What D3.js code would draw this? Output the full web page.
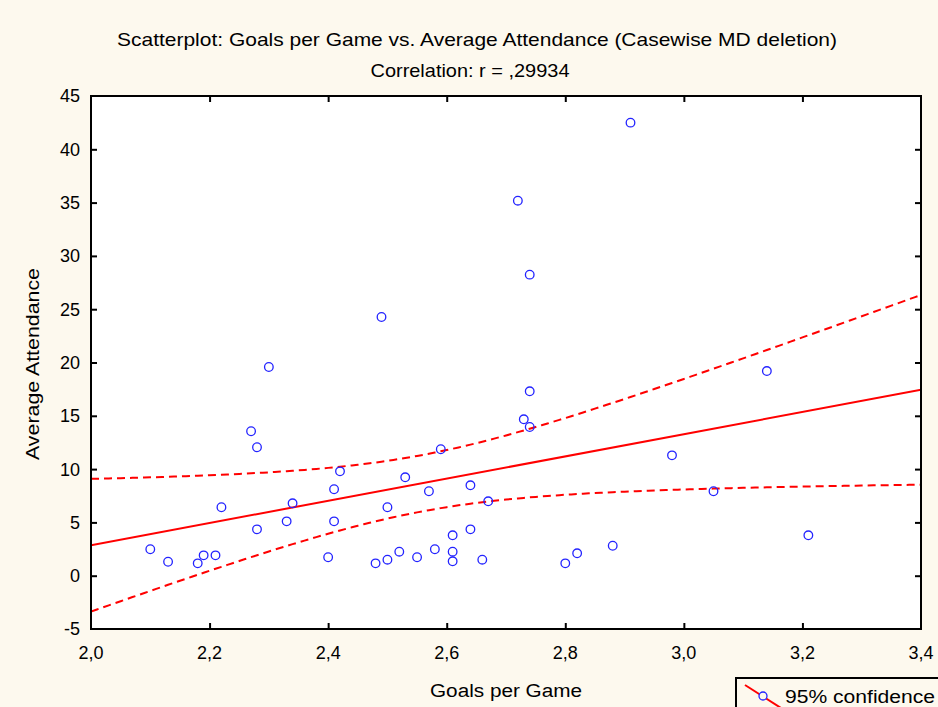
<!DOCTYPE html>
<html>
<head>
<meta charset="utf-8">
<script src="https://cdn.jsdelivr.net/npm/d3@7/dist/d3.min.js"></script>
<style>
  html, body { margin: 0; padding: 0; background: #fdf9ee; }
  svg { display: block; font-family: "Liberation Sans", Arial, sans-serif; }
</style>
</head>
<body>
<svg id="chart" width="938" height="707"></svg>
<script>
// Goals per game and average attendance (thousands) for each club
const goalsPerGame = [2.10, 2.13, 2.18, 2.19, 2.21, 2.22, 2.27, 2.28, 2.28, 2.30,
  2.33, 2.34, 2.40, 2.41, 2.41, 2.42, 2.48, 2.49, 2.50, 2.50,
  2.52, 2.53, 2.55, 2.57, 2.58, 2.59, 2.61, 2.61, 2.61, 2.64,
  2.64, 2.66, 2.67, 2.72, 2.73, 2.74, 2.74, 2.74, 2.80, 2.82,
  2.88, 2.91, 2.98, 3.05, 3.14, 3.21];
const avgAttendance = [2.48, 1.31, 1.16, 1.91, 1.91, 6.42, 13.55, 12.05, 4.35, 19.58,
  5.10, 6.79, 1.73, 8.11, 5.10, 9.79, 1.16, 24.27, 6.42, 1.50,
  2.25, 9.23, 1.73, 7.92, 2.48, 11.86, 3.79, 2.25, 1.35, 8.48,
  4.35, 1.50, 6.98, 35.18, 14.67, 13.95, 28.24, 17.30, 1.16, 2.10,
  2.81, 42.50, 11.29, 7.92, 19.20, 3.79];

const xTicks = [2.0, 2.2, 2.4, 2.6, 2.8, 3.0, 3.2, 3.4];
const yTicks = [-5, 0, 5, 10, 15, 20, 25, 30, 35, 40, 45];
const titleText = "Scatterplot: Goals per Game vs. Average Attendance (Casewise MD deletion)";
const subtitleText = "Correlation: r = ,29934";
const xLabel = "Goals per Game";
const yLabel = "Average Attendance";
const legendText = "95% confidence";
const tCrit = 2.0154; // two-sided 95% t quantile, df = n - 2 = 44

const svg = d3.select("#chart");
const pL = 91, pR = 921, pT = 96, pB = 629;

const x = d3.scaleLinear().domain([2.0, 3.4]).range([pL, pR]);
const y = d3.scaleLinear().domain([-5, 45]).range([pB, pT]);
const fmtX = v => d3.format(".1f")(v).replace(".", ",");

// Plot area
svg.append("rect").attr("x", pL).attr("y", pT)
  .attr("width", pR - pL).attr("height", pB - pT)
  .attr("fill", "#ffffff");

// Least-squares fit and 95% confidence band for the mean
const n = goalsPerGame.length;
const mx = d3.mean(goalsPerGame), my = d3.mean(avgAttendance);
let sxx = 0, sxy = 0;
for (let i = 0; i < n; i++) {
  sxx += (goalsPerGame[i] - mx) ** 2;
  sxy += (goalsPerGame[i] - mx) * (avgAttendance[i] - my);
}
const slope = sxy / sxx, intercept = my - slope * mx;
let sse = 0;
for (let i = 0; i < n; i++) sse += (avgAttendance[i] - intercept - slope * goalsPerGame[i]) ** 2;
const se = Math.sqrt(sse / (n - 2));
const fit = v => intercept + slope * v;
const half = v => tCrit * se * Math.sqrt(1 / n + (v - mx) ** 2 / sxx);
const grid = d3.range(0, 141).map(i => 2.0 + i * 0.01);

const plot = svg.append("g");
plot.append("clipPath").attr("id", "clip").append("rect")
  .attr("x", pL).attr("y", pT).attr("width", pR - pL).attr("height", pB - pT);
const inner = plot.append("g").attr("clip-path", "url(#clip)");

const lineGen = f => d3.line().x(d => x(d)).y(d => y(f(d)));
inner.append("path").attr("d", lineGen(v => fit(v) + half(v))(grid))
  .attr("fill", "none").attr("stroke", "#ff0000").attr("stroke-width", 2).attr("stroke-dasharray", "8,5");
inner.append("path").attr("d", lineGen(v => fit(v) - half(v))(grid))
  .attr("fill", "none").attr("stroke", "#ff0000").attr("stroke-width", 2).attr("stroke-dasharray", "8,5");
inner.append("path").attr("d", lineGen(fit)([2.0, 3.4]))
  .attr("fill", "none").attr("stroke", "#ff0000").attr("stroke-width", 2);

// Points
inner.selectAll("circle.pt").data(goalsPerGame.map((g, i) => [g, avgAttendance[i]]))
  .enter().append("circle").attr("class", "pt")
  .attr("cx", d => x(d[0])).attr("cy", d => y(d[1])).attr("r", 4.3)
  .attr("fill", "none").attr("stroke", "#2323ff").attr("stroke-width", 1.3);

// Axes: ticks pointing inward on all four sides
const axisStyle = g => {
  g.select(".domain").remove();
  g.selectAll(".tick line").attr("stroke", "#000").attr("stroke-width", 2);
};
svg.append("g").attr("transform", `translate(0,${pB})`)
  .call(d3.axisTop(x).tickValues(xTicks.slice(1, -1)).tickSize(6).tickFormat(""))
  .call(axisStyle);
svg.append("g").attr("transform", `translate(0,${pT})`)
  .call(d3.axisBottom(x).tickValues(xTicks.slice(1, -1)).tickSize(6).tickFormat(""))
  .call(axisStyle);
svg.append("g").attr("transform", `translate(${pL},0)`)
  .call(d3.axisRight(y).tickValues(yTicks.slice(1, -1)).tickSize(6).tickFormat(""))
  .call(axisStyle);
svg.append("g").attr("transform", `translate(${pR},0)`)
  .call(d3.axisLeft(y).tickValues(yTicks.slice(1, -1)).tickSize(6).tickFormat(""))
  .call(axisStyle);

// Frame
svg.append("rect").attr("x", pL).attr("y", pT)
  .attr("width", pR - pL).attr("height", pB - pT)
  .attr("fill", "none").attr("stroke", "#000").attr("stroke-width", 2);

// Tick labels
svg.append("g").selectAll("text").data(yTicks).enter().append("text")
  .attr("x", 80).attr("y", d => y(d)).attr("dy", "0.36em")
  .attr("text-anchor", "end").attr("font-size", 18).attr("fill", "#000")
  .text(d => d);
svg.append("g").selectAll("text").data(xTicks).enter().append("text")
  .attr("x", d => x(d)).attr("y", 659)
  .attr("text-anchor", "middle").attr("font-size", 18).attr("fill", "#000")
  .text(d => fmtX(d));

// Titles
svg.append("text").attr("x", 477).attr("y", 46).attr("text-anchor", "middle")
  .attr("font-size", 19).attr("textLength", 720).attr("lengthAdjust", "spacingAndGlyphs")
  .text(titleText);
svg.append("text").attr("x", 470).attr("y", 77).attr("text-anchor", "middle")
  .attr("font-size", 19).attr("textLength", 199).attr("lengthAdjust", "spacingAndGlyphs")
  .text(subtitleText);
svg.append("text").attr("x", 506).attr("y", 697).attr("text-anchor", "middle")
  .attr("font-size", 18).attr("textLength", 152).attr("lengthAdjust", "spacingAndGlyphs")
  .text(xLabel);
svg.append("text").attr("transform", "translate(39,364) rotate(-90)").attr("text-anchor", "middle")
  .attr("font-size", 18).attr("textLength", 192).attr("lengthAdjust", "spacingAndGlyphs")
  .text(yLabel);

// Legend
const lg = svg.append("g");
lg.append("rect").attr("x", 736).attr("y", 678).attr("width", 210).attr("height", 40)
  .attr("fill", "#fdf9ee").attr("stroke", "#000").attr("stroke-width", 2);
lg.append("line").attr("x1", 745).attr("y1", 685).attr("x2", 781).attr("y2", 708)
  .attr("stroke", "#ff0000").attr("stroke-width", 2);
lg.append("circle").attr("cx", 763).attr("cy", 696).attr("r", 4)
  .attr("fill", "#fdf9ee").attr("stroke", "#2323ff").attr("stroke-width", 1.3);
lg.append("text").attr("x", 785).attr("y", 703).attr("font-size", 18)
  .attr("textLength", 150).attr("lengthAdjust", "spacingAndGlyphs").text(legendText);
</script>
</body>
</html>
